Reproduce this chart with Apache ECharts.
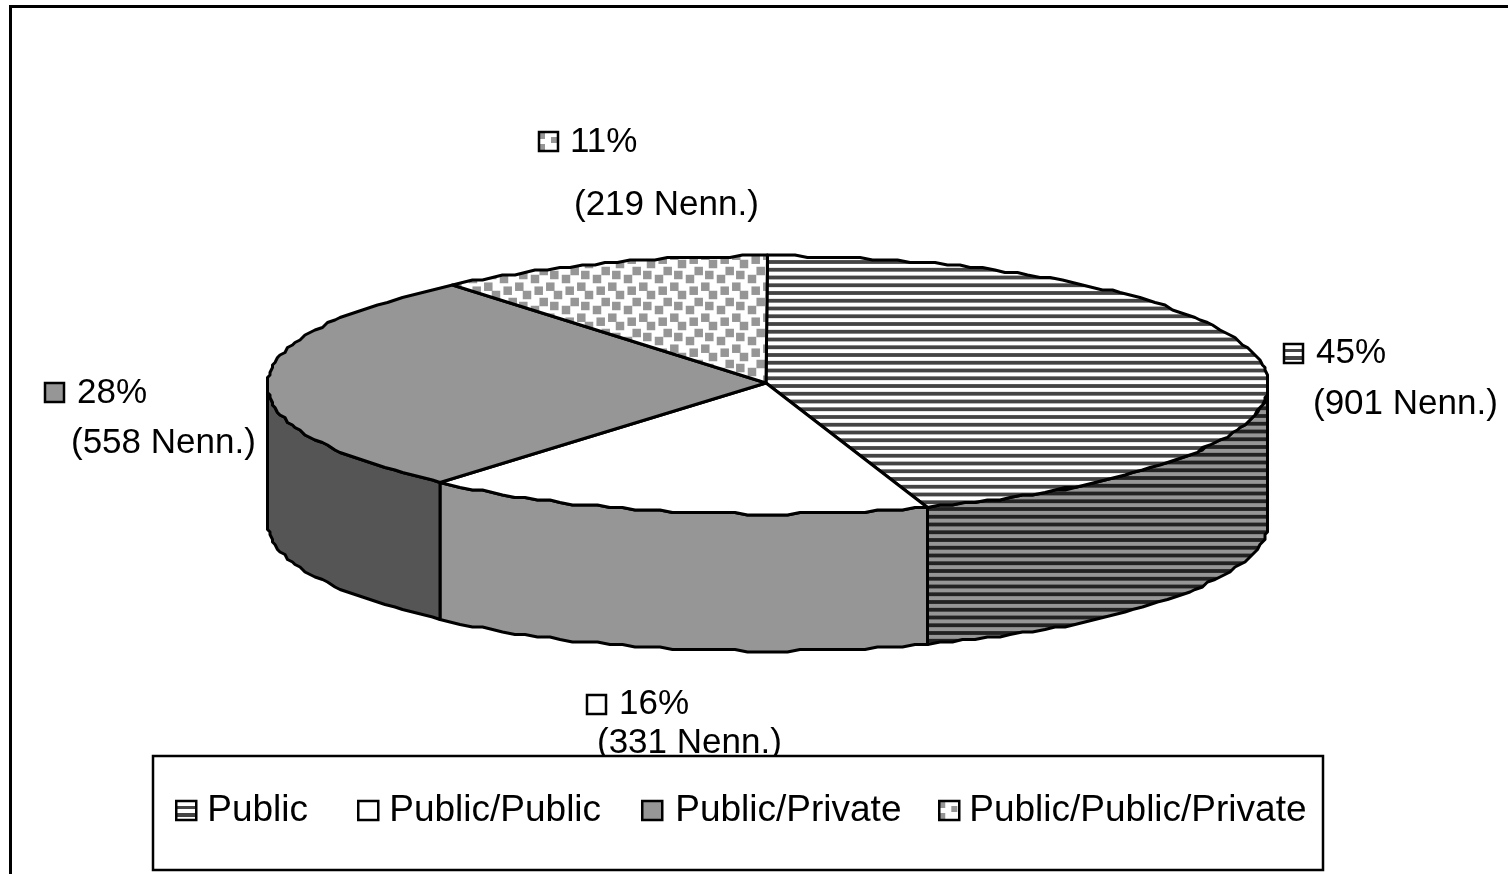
<!DOCTYPE html>
<html>
<head>
<meta charset="utf-8">
<title>Pie</title>
<style>
  html, body { margin: 0; padding: 0; background: #fff; overflow: hidden; }
  #chart { width: 1508px; height: 874px; }
</style>
</head>
<body>
<div id="chart"></div>
<script src="https://cdn.jsdelivr.net/npm/echarts@6/dist/echarts.min.js"></script>
<script>
// data
const categories = ['Public', 'Public/Public', 'Public/Private', 'Public/Public/Private']
const counts = [901, 331, 558, 219]
const percentLabels = ['45%', '16%', '28%', '11%']

// layout of the fake 3d pie
const pie = { cx: 768, cy: 385, rx: 500.5, ry: 129, depth: 137, apexX: 766, apexY: 383, snap: 2.5 }
const FONT = '"Liberation Sans", Arial, sans-serif'
const labelPos = [
  { icon: [1284, 344], pct: [1316, 353], nenn: [1313, 404] },
  { icon: [587, 695], pct: [619, 704], nenn: [597, 743] },
  { icon: [45, 383], pct: [77, 393], nenn: [71, 443] },
  { icon: [539, 132], pct: [570, 142], nenn: [574, 205] }
]
const legendLeft = [175, 357, 641, 938]
const legendTextGap = [6, 6, 8, 5]

function tile(w, h, draw) {
  const c = document.createElement('canvas')
  c.width = w
  c.height = h
  draw(c.getContext('2d'))
  return { image: c, repeat: 'repeat' }
}

function stripes(light, dark, phase) {
  return tile(4, 31, (ctx) => {
    ctx.fillStyle = light
    ctx.fillRect(0, 0, 4, 31)
    ctx.fillStyle = dark
    for (let k = -1; k < 5; k++) {
      ctx.fillRect(0, phase + k * 7.75 - 1.9, 4, 3.8)
    }
  })
}

const dotSpots = [[0, 16], [16.7, 23], [27.3, 27], [8, 0], [23.3, 7.7], [11.7, 11.7]]
const dots = tile(31, 31, (ctx) => {
  ctx.fillStyle = '#fff'
  ctx.fillRect(0, 0, 31, 31)
  ctx.fillStyle = '#969696'
  dotSpots.forEach(([x, y]) => {
    for (let a = -31; a <= 31; a += 31) {
      for (let b = -31; b <= 31; b += 31) {
        ctx.fillRect(x - 4.25 + a, y - 4.25 + b, 8.5, 8.5)
      }
    }
  })
})

const topFills = [stripes('#fff', '#444', 6.25), '#fff', '#969696', dots]
const sideFills = [stripes('#969696', '#222', 5.25), '#969696', '#555', '#969696']

const stripeIcon = tile(20, 20, (ctx) => {
  ctx.fillStyle = '#fff'
  ctx.fillRect(0, 0, 20, 20)
  ctx.fillStyle = '#444'
  ctx.fillRect(0, 5, 20, 3)
  ctx.fillRect(0, 12, 20, 4)
})
const dotIcon = tile(20, 20, (ctx) => {
  ctx.fillStyle = '#fff'
  ctx.fillRect(0, 0, 20, 20)
  ctx.fillStyle = '#969696'
  ctx.fillRect(0, 0, 6, 7)
  ctx.fillRect(12, 5, 6, 6)
  ctx.fillRect(0, 12, 6, 6)
})
const iconFills = [stripeIcon, '#fff', '#969696', dotIcon]

const total = counts.reduce((a, b) => a + b, 0)

// the rim of the original is a stepped line, so snap it to a coarse grid
function rimPoint(deg, drop) {
  const t = deg * Math.PI / 180
  const x = pie.cx + pie.rx * Math.sin(t)
  const y = pie.cy - pie.ry * Math.cos(t)
  return [Math.round(x / pie.snap) * pie.snap, Math.round(y / pie.snap) * pie.snap + drop]
}

function arc(from, to, drop) {
  const pts = []
  const n = Math.max(2, Math.ceil((to - from) / 1.5))
  for (let i = 0; i <= n; i++) {
    pts.push(rimPoint(from + (to - from) * i / n, drop))
  }
  return pts
}

const lineStyle = { stroke: '#000', lineWidth: 3, lineJoin: 'round' }

function renderSlice(params, api) {
  const i = params.seriesIndex
  const start = api.value(0) / total * 360
  const end = api.value(1) / total * 360
  const children = []

  // side wall, only the part facing the viewer
  const a = Math.max(start, 90)
  const b = Math.min(end, 270)
  if (b > a) {
    children.push({
      type: 'polygon',
      shape: { points: arc(a, b, 0).concat(arc(a, b, pie.depth).reverse()) },
      style: { fill: sideFills[i], ...lineStyle }
    })
  }

  // top face
  children.push({
    type: 'polygon',
    shape: { points: [[pie.apexX, pie.apexY]].concat(arc(start, end, 0)) },
    style: { fill: topFills[i], ...lineStyle }
  })

  // value label with its small key
  const pos = labelPos[i]
  children.push({
    type: 'group',
    x: pos.icon[0],
    y: pos.icon[1],
    children: [{
      type: 'rect',
      shape: { x: 0, y: 0, width: 19, height: 19 },
      style: { fill: iconFills[i], stroke: '#000', lineWidth: 2.5 }
    }]
  })
  children.push({
    type: 'text',
    x: pos.pct[0],
    y: pos.pct[1],
    style: { text: percentLabels[i], font: '35px ' + FONT, fill: '#000', align: 'left', verticalAlign: 'middle' }
  })
  children.push({
    type: 'text',
    x: pos.nenn[0],
    y: pos.nenn[1],
    style: { text: '(' + api.value(2) + ' Nenn.)', font: '35px ' + FONT, fill: '#000', align: 'left', verticalAlign: 'middle' }
  })
  return { type: 'group', children }
}

let running = 0
const series = categories.map((name, i) => {
  const from = running
  running += counts[i]
  return {
    type: 'custom',
    name,
    coordinateSystem: 'none',
    silent: true,
    animation: false,
    renderItem: renderSlice,
    data: [[from, running, counts[i]]]
  }
})

const legends = categories.map((name, i) => ({
  left: legendLeft[i],
  top: 792,
  orient: 'horizontal',
  itemWidth: 20,
  itemHeight: 19,
  padding: 0,
  selectedMode: false,
  icon: 'rect',
  textStyle: { fontFamily: FONT, fontSize: 37, color: '#000', padding: [0, 0, 8, legendTextGap[i]] },
  data: [{
    name,
    itemStyle: { color: iconFills[i], borderColor: '#000', borderWidth: 2.5 }
  }]
}))

const chart = echarts.init(document.getElementById('chart'))
chart.setOption({
  animation: false,
  backgroundColor: '#fff',
  tooltip: { show: false },
  legend: legends,
  graphic: {
    elements: [
      {
        type: 'rect',
        silent: true,
        z: 0,
        shape: { x: 10.5, y: 6.5, width: 1700, height: 1000 },
        style: { fill: 'none', stroke: '#000', lineWidth: 3 }
      },
      {
        type: 'rect',
        silent: true,
        z: 3,
        shape: { x: 153, y: 756, width: 1170, height: 114 },
        style: { fill: '#fff', stroke: '#000', lineWidth: 2.5 }
      }
    ]
  },
  series
})

window.addEventListener('resize', () => {
  chart.resize()
})
</script>
</body>
</html>
